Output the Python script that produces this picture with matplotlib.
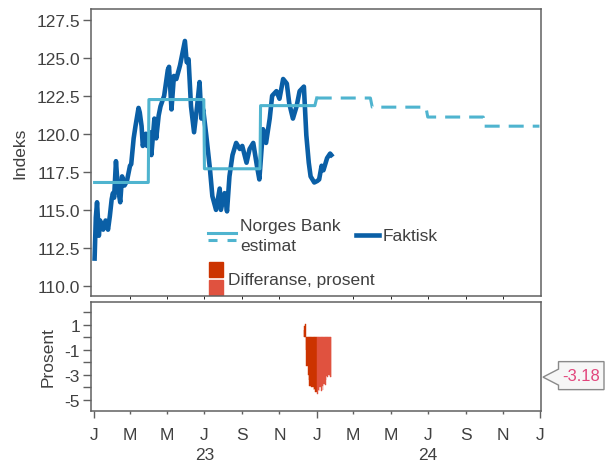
import numpy as np
import pandas as pd
import matplotlib
matplotlib.use("Agg")
import matplotlib.pyplot as plt
import matplotlib.dates as mdates
import matplotlib.ticker as mticker
from matplotlib.patches import Polygon, Rectangle
from matplotlib.lines import Line2D
from matplotlib.transforms import IdentityTransform, blended_transform_factory

plt.rcParams['font.family'] = ['Liberation Sans', 'DejaVu Sans']
plt.rcParams['font.size'] = 12.5
plt.rcParams['lines.scale_dashes'] = False

# ---- data ----
faktisk_dates = [
    "2023-01-02", "2023-01-04", "2023-01-06", "2023-01-09", "2023-01-11", "2023-01-16",
    "2023-01-20", "2023-01-24", "2023-01-27", "2023-01-30", "2023-02-01", "2023-02-03",
    "2023-02-06", "2023-02-09", "2023-02-13", "2023-02-16", "2023-02-20", "2023-02-24",
    "2023-03-01", "2023-03-03", "2023-03-07", "2023-03-10", "2023-03-15", "2023-03-17",
    "2023-03-20", "2023-03-22", "2023-03-27", "2023-03-29", "2023-04-03", "2023-04-05",
    "2023-04-10", "2023-04-13", "2023-04-17", "2023-04-20", "2023-04-26", "2023-05-02",
    "2023-05-04", "2023-05-08", "2023-05-12", "2023-05-16", "2023-05-22", "2023-05-30",
    "2023-06-02", "2023-06-05", "2023-06-09", "2023-06-14", "2023-06-19", "2023-06-23",
    "2023-06-26", "2023-06-29", "2023-07-04", "2023-07-10", "2023-07-14", "2023-07-20",
    "2023-07-26", "2023-07-28", "2023-08-03", "2023-08-07", "2023-08-11", "2023-08-16",
    "2023-08-22", "2023-08-28", "2023-09-01", "2023-09-08", "2023-09-13", "2023-09-19",
    "2023-09-25", "2023-09-29", "2023-10-05", "2023-10-10", "2023-10-16", "2023-10-20",
    "2023-10-27", "2023-11-01", "2023-11-07", "2023-11-13", "2023-11-17", "2023-11-23",
    "2023-11-29", "2023-12-04", "2023-12-11", "2023-12-15", "2023-12-19", "2023-12-22",
    "2023-12-28", "2024-01-02", "2024-01-05", "2024-01-09", "2024-01-12", "2024-01-18",
    "2024-01-23", "2024-01-25",
]
faktisk_vals = [
    111.8, 114.5, 115.5, 113.3, 114.3, 113.7,
    114.3, 113.7, 114.6, 115.7, 116.1, 115.8,
    118.2, 116.5, 115.5, 117.2, 116.6, 116.9,
    117.9, 118.0, 119.7, 120.5, 121.7, 121.4,
    120.5, 119.2, 120.0, 119.2, 120.1, 118.6,
    121.0, 119.7, 121.2, 121.8, 122.5, 124.2,
    124.4, 121.6, 123.8, 123.6, 124.5, 126.1,
    124.7, 124.9, 121.8, 120.1, 121.8, 123.4,
    121.0, 121.6, 119.9, 117.7, 115.9, 115.0,
    116.4, 115.0, 116.1, 114.9, 117.2, 118.6,
    119.4, 119.0, 119.2, 118.1, 119.0, 119.4,
    117.9, 117.0, 120.3, 119.4, 121.0, 122.5,
    122.8, 122.3, 123.6, 123.3, 122.0, 121.0,
    121.8, 122.8, 123.1, 119.9, 118.1, 117.2,
    116.8, 116.9, 117.0, 117.9, 117.6, 118.4,
    118.7, 118.6,
]

# Norges Bank estimate, one level per quarter
est_starts = ["2023-01-02", "2023-04-01", "2023-07-01", "2023-10-01",
              "2024-01-01", "2024-04-01", "2024-07-01", "2024-10-01"]
est_ends = ["2023-03-31", "2023-06-30", "2023-09-30", "2023-12-29",
            "2024-03-29", "2024-06-28", "2024-09-30", "2024-12-31"]
est_vals = [116.8, 122.25, 117.7, 121.85, 122.35, 121.75, 121.1, 120.5]
n_solid = 4   # quarters that are already known (drawn solid)

# difference, percent (business days)
diff_dates = [
    "2023-12-11", "2023-12-12", "2023-12-13", "2023-12-14", "2023-12-15", "2023-12-18",
    "2023-12-19", "2023-12-20", "2023-12-21", "2023-12-22", "2023-12-27", "2023-12-28",
    "2023-12-29", "2024-01-02", "2024-01-03", "2024-01-04", "2024-01-05", "2024-01-08",
    "2024-01-09", "2024-01-10", "2024-01-11", "2024-01-12", "2024-01-15", "2024-01-16",
    "2024-01-17", "2024-01-18", "2024-01-19", "2024-01-22", "2024-01-23", "2024-01-24",
]
diff_vals = [
    0.6, 0.9, 1.1, -1.0, -2.3, -3.0,
    -3.4, -3.9, -3.9, -4.0, -4.2, -4.1,
    -4.4, -4.5, -4.2, -4.3, -4.0, -4.3,
    -4.2, -3.9, -4.2, -3.7, -3.8, -3.4,
    -3.1, -3.2, -3.0, -3.1, -3.2, -3.18,
]
last_diff = diff_vals[-1]

c_fakt = "#0a5fa6"
c_est = "#4fb4cf"
c_dec = "#cc3300"
c_jan = "#e0523f"
c_text = "#404040"
c_axis = "#606060"

# ---- figure ----
W, H = 606, 464
fig = plt.figure(figsize=(W / 100, H / 100), dpi=100)
ax1 = fig.add_axes([91 / W, 1 - 297 / H, 450 / W, 287 / H])
ax2 = fig.add_axes([91 / W, 1 - 412 / H, 450 / W, 109 / H], sharex=ax1)

fd = pd.to_datetime(faktisk_dates)
ax1.plot(fd, faktisk_vals, color=c_fakt, lw=3.3, solid_joinstyle="round", zorder=3)

# estimate as quarter steps
xs, ys = [], []
for s, e, v in zip(est_starts, est_ends, est_vals):
    xs += [pd.Timestamp(s), pd.Timestamp(e)]
    ys += [v, v]
k = 2 * n_solid
ax1.plot(xs[:k + 1], ys[:k + 1], color=c_est, lw=2.2, zorder=4)
ax1.plot(xs[k:], ys[k:], color=c_est, lw=2.2, dashes=(10.8, 6.5), zorder=4)

# difference bars
dd = pd.to_datetime(diff_dates)
widths = np.append(np.diff(dd.values).astype("timedelta64[h]").astype(float) / 24, 1.0)
cols = [c_dec if d.year == 2023 else c_jan for d in dd]
ax2.bar(dd, diff_vals, width=widths, align="edge", color=cols, edgecolor=cols, linewidth=0.3)

# ---- axes styling ----
x0 = mdates.date2num(pd.Timestamp("2023-01-01")) - 4.9
x1 = mdates.date2num(pd.Timestamp("2025-01-01")) + 1.6
ax1.set_xlim(x0, x1)
ax1.set_ylim(109.34, 128.2)
ax2.set_ylim(-5.89, 2.83)

for ax in (ax1, ax2):
    for sp in ax.spines.values():
        sp.set_color(c_axis)
        sp.set_linewidth(1.1)
    ax.tick_params(axis="y", length=6, width=1, color=c_axis, labelcolor=c_text, pad=2)

ax1.set_yticks(np.arange(110, 128.5, 2.5))
ax1.yaxis.set_major_formatter(mticker.FormatStrFormatter("%.1f"))
ax1.tick_params(axis="x", bottom=False, labelbottom=False)

ax2.set_yticks(range(-5, 3))
ax2.set_yticklabels([str(v) if v % 2 else "" for v in range(-5, 3)])

month_fmt = mticker.FuncFormatter(lambda x, pos: mdates.num2date(x).strftime("%b")[0])
ax2.xaxis.set_major_locator(mdates.MonthLocator(bymonth=1))
ax2.xaxis.set_minor_locator(mdates.MonthLocator(bymonth=[3, 5, 7, 9, 11]))
ax2.xaxis.set_major_formatter(month_fmt)
ax2.xaxis.set_minor_formatter(month_fmt)
ax2.tick_params(axis="x", which="major", length=5.2, width=1, color=c_axis,
                labelcolor=c_text, pad=6.5)
ax2.tick_params(axis="x", which="minor", length=2.2, width=1, color=c_axis,
                labelcolor=c_text, pad=9.5)

yr_tr = blended_transform_factory(ax2.transData, ax2.transAxes)
for yr in (2023, 2024):
    ax2.text(pd.Timestamp(f"{yr}-07-01"), -0.40, str(yr)[2:], transform=yr_tr,
             ha="center", va="center", color=c_text)

ax1.set_ylabel("Indeks", color=c_text)
ax1.yaxis.set_label_coords(-0.142, 0.5)
ax2.set_ylabel("Prosent", color=c_text)
ax2.yaxis.set_label_coords(-0.078, 0.5)

# ---- legend (drawn by hand inside the top panel) ----
def fx(px):
    return (px - 91) / 450


def fy(py):
    return (297 - py) / 287


t = ax1.transAxes
ax1.add_line(Line2D([fx(208), fx(236)], [fy(234), fy(234)], color=c_est, lw=2.2, transform=t))
ax1.add_line(Line2D([fx(208), fx(236)], [fy(240.5), fy(240.5)], color=c_est, lw=2.2,
                    dashes=(6.5, 7.2), transform=t))
ax1.text(fx(240.5), fy(231.5), "Norges Bank", transform=t, va="baseline", color=c_text)
ax1.text(fx(240.5), fy(251.5), "estimat", transform=t, va="baseline", color=c_text)
ax1.add_line(Line2D([fx(356), fx(379)], [fy(236), fy(236)], color=c_fakt, lw=3.3, transform=t))
ax1.text(fx(383), fy(241.5), "Faktisk", transform=t, va="baseline", color=c_text)
ax1.add_patch(Rectangle((fx(208.5), fy(277.7)), 14.5 / 450, 15 / 287, color=c_dec, transform=t))
ax1.add_patch(Rectangle((fx(208.5), fy(296.3)), 14.5 / 450, 15 / 287, color=c_jan, transform=t))
ax1.text(fx(228), fy(285), "Differanse, prosent", transform=t, va="baseline", color=c_text)

# ---- value callout at right edge ----
ty = ax2.transData.transform((x1, last_diff))[1]
bl, br, tip = 558.5, 604.0, 543
poly = Polygon([(bl, ty + 15.5), (br, ty + 15.5), (br, ty - 12.5), (bl, ty - 12.5),
                (bl, ty - 8), (tip, ty), (bl, ty + 8)],
               closed=True, transform=IdentityTransform(),
               facecolor="#f6f6f6", edgecolor="#8a8a8a", lw=1.0)
fig.add_artist(poly)
fig.text((bl + br) / 2 / W, (ty + 1.5) / H, f"{last_diff:.2f}", ha="center", va="center",
         color="#e2467c", fontsize=12)

fig.savefig("out.png", dpi=100)
